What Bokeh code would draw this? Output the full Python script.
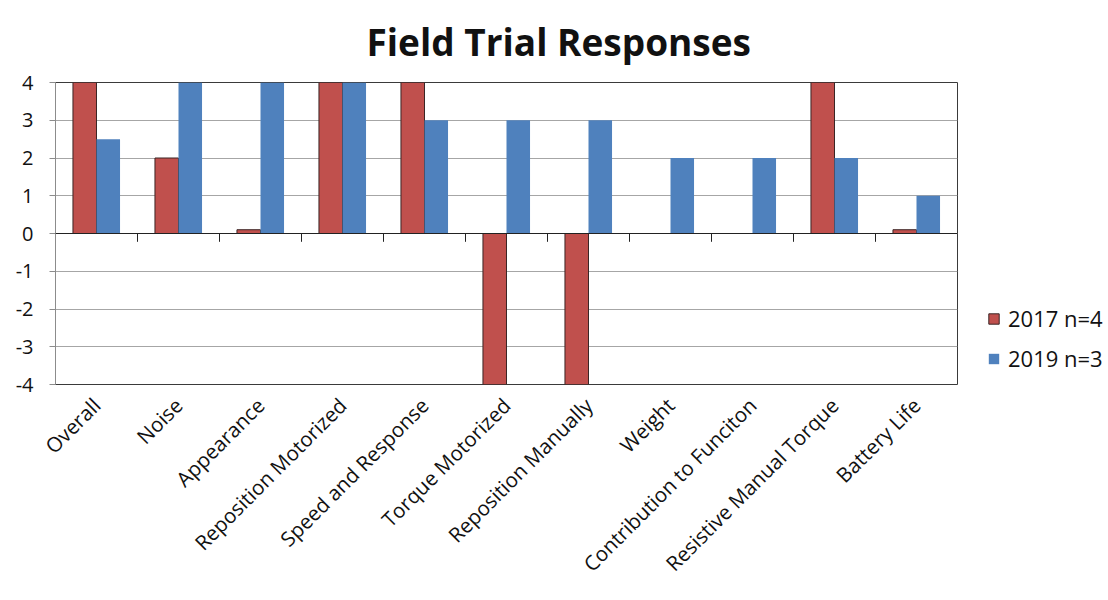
from bokeh.plotting import figure
from bokeh.models import (ColumnDataSource, FactorRange, Range1d, Span, Legend, LegendItem,
                          FixedTicker, Title)
from bokeh.transform import dodge
from bokeh.embed import file_html
from bokeh.resources import INLINE
from math import pi

categories = ["Overall", "Noise", "Appearance", "Reposition Motorized", "Speed and Response",
              "Torque Motorized", "Reposition Manually", "Weight", "Contribution to Funciton",
              "Resistive Manual Torque", "Battery Life"]
y2017 = [4, 2, 0.1, 4, 4, -4, -4, 0, 0, 4, 0.1]
y2019 = [2.5, 4, 4, 4, 3, 3, 3, 2, 2, 2, 1]
y_ticks = [-4, -3, -2, -1, 0, 1, 2, 3, 4]

FONT = "Open Sans"

src = ColumnDataSource(dict(cat=categories, a=y2017, b=y2019,
                            a_line=["#3b2525" if v != 0 else None for v in y2017],
                            t0=[0] * len(categories), t1=[-0.22] * len(categories)))

p = figure(frame_width=902, frame_height=302, x_range=FactorRange(*categories), y_range=Range1d(-4, 4),
           output_backend="svg", toolbar_location=None,
           min_border_left=55, min_border_right=0, min_border_top=82, min_border_bottom=216)

p.title = Title(text="Field Trial Responses", align="left", offset=311, standoff=28,
                vertical_align="top",
                text_font=FONT, text_font_size="37px", text_font_style="bold", text_color="#111111")

p.background_fill_color = "white"
p.border_fill_color = "white"
p.outline_line_color = "#3a3a3a"
p.outline_line_width = 1

p.xgrid.grid_line_color = None
p.ygrid.grid_line_color = "#a6a6a6"
p.ygrid.grid_line_width = 1
p.yaxis.ticker = FixedTicker(ticks=y_ticks)
p.yaxis.major_label_overrides = {t: str(t) for t in y_ticks}

p.yaxis.axis_line_color = "#8c8c8c"
p.yaxis.major_tick_line_color = "#8c8c8c"
p.yaxis.major_tick_out = 6
p.yaxis.major_tick_in = 0
p.yaxis.minor_tick_line_color = None
p.yaxis.major_label_standoff = 16
p.yaxis.major_label_text_font = FONT
p.yaxis.major_label_text_font_size = "20px"
p.yaxis.major_label_text_color = "#111111"

p.xaxis.axis_line_color = None
p.xaxis.major_tick_line_color = None
p.xaxis.minor_tick_line_color = None
p.xaxis.major_label_orientation = pi / 4
p.xaxis.major_label_standoff = 11
p.xaxis.major_label_text_font = FONT
p.xaxis.major_label_text_font_size = "20.5px"
p.xaxis.major_label_text_color = "#111111"

bw = 0.287
r1 = p.vbar(x=dodge("cat", -bw / 2, range=p.x_range), top="a", bottom=0, width=bw, source=src,
            fill_color="#C0504D", line_color="a_line", line_width=1)
r2 = p.vbar(x=dodge("cat", bw / 2, range=p.x_range), top="b", bottom=0, width=bw, source=src,
            fill_color="#4F81BD", line_color=None)

p.add_layout(Span(location=0, dimension="width", line_color="#222222", line_width=1.2))
p.segment(x0=dodge("cat", -0.5, range=p.x_range), x1=dodge("cat", -0.5, range=p.x_range),
          y0="t0", y1="t1", source=src, line_color="#222222", line_width=1)

legend = Legend(items=[LegendItem(label="2017 n=4", renderers=[r1]),
                       LegendItem(label="2019 n=3", renderers=[r2])],
                location=(30, 11), orientation="vertical",
                label_text_font=FONT, label_text_font_size="22px", label_text_color="#111111",
                glyph_width=13, glyph_height=13, label_standoff=8, spacing=10,
                padding=0, margin=0, border_line_color=None, background_fill_alpha=0)
p.add_layout(legend, "right")

open("out.html", "w").write(file_html(p, INLINE))
